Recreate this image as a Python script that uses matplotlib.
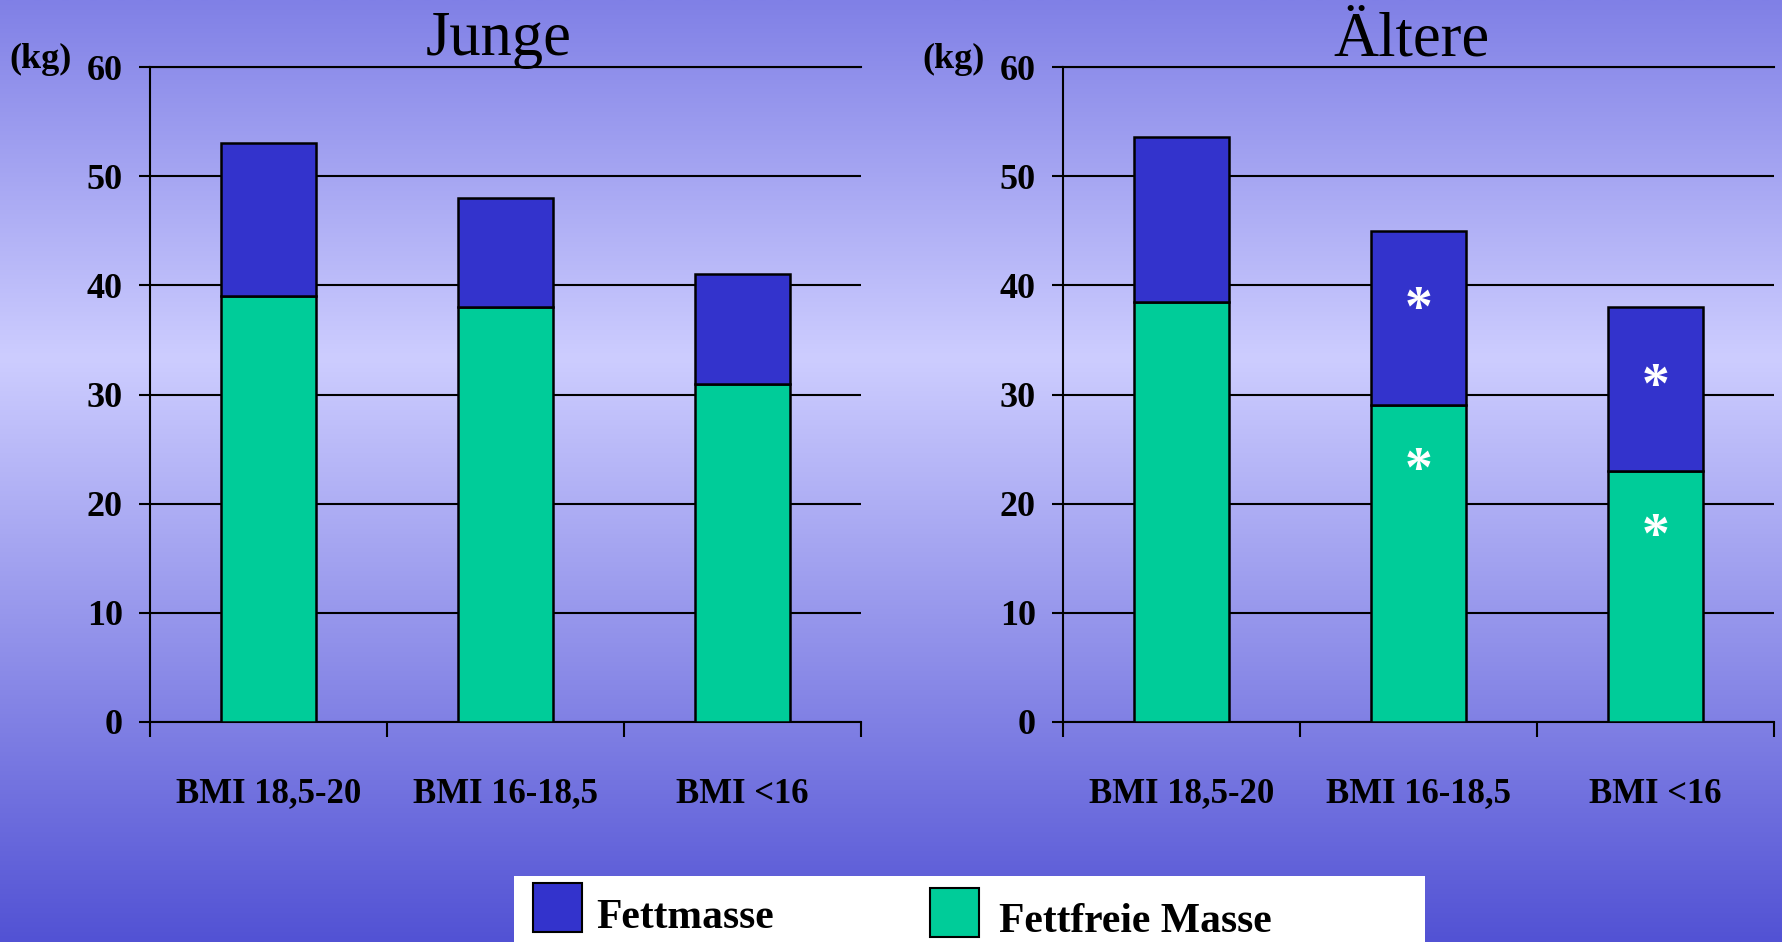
import numpy as np
import matplotlib
matplotlib.use("Agg")
import matplotlib.pyplot as plt
from matplotlib.patches import Rectangle

plt.rcParams["font.family"] = ["Liberation Serif", "DejaVu Serif"]

# ---- data -------------------------------------------------------------
categories = ["BMI 18,5-20", "BMI 16-18,5", "BMI <16"]
panel_titles = ["Junge", "Ältere"]

# fat-free mass (kg) and fat mass (kg) per BMI group
junge_fettfrei = [39.0, 38.0, 31.0]
junge_fett = [14.0, 10.0, 10.0]
aeltere_fettfrei = [38.5, 29.0, 23.0]
aeltere_fett = [15.1, 16.0, 15.0]

# significance flags (drawn as asterisks inside the segments)
junge_sig_fett = [False, False, False]
junge_sig_fettfrei = [False, False, False]
aeltere_sig_fett = [False, True, True]
aeltere_sig_fettfrei = [False, True, True]

y_ticks = [0, 10, 20, 30, 40, 50, 60]
legend_labels = ["Fettmasse", "Fettfreie Masse"]
y_unit = "(kg)"

# ---- style --------------------------------------------------------------
C_FETT = "#3333CC"
C_FREI = "#00CC99"
W, H = 1783, 942

fig = plt.figure(figsize=(W / 100, H / 100), dpi=100)

# vertical background gradient
bg = fig.add_axes([0, 0, 1, 1], zorder=-10)
stops_pos = [0.0, 0.38, 1.0]
stops_col = np.array([[128, 128, 230], [205, 205, 255], [82, 82, 212]]) / 255.0
rows = np.linspace(0, 1, 600)
grad = np.stack([np.interp(rows, stops_pos, stops_col[:, k]) for k in range(3)], axis=1)
bg.imshow(grad[:, None, :], extent=[0, 1, 0, 1], aspect="auto", interpolation="bilinear")
bg.set_axis_off()

panels = [
    (panel_titles[0], junge_fettfrei, junge_fett, junge_sig_fettfrei, junge_sig_fett),
    (panel_titles[1], aeltere_fettfrei, aeltere_fett, aeltere_sig_fettfrei, aeltere_sig_fett),
]
positions = [[150 / W, 1 - 722 / H, 711 / W, 655 / H],
             [1063 / W, 1 - 722 / H, 711 / W, 655 / H]]

for pos, (title, frei, fett, sig_frei, sig_fett) in zip(positions, panels):
    ax = fig.add_axes(pos)
    ax.patch.set_alpha(0)
    x = np.arange(len(categories))
    ax.bar(x, frei, width=0.4, color=C_FREI, edgecolor="black", linewidth=1.8, zorder=3)
    ax.bar(x, fett, bottom=frei, width=0.4, color=C_FETT, edgecolor="black",
           linewidth=1.8, zorder=3)

    # asterisks marking significant differences
    for i in range(len(categories)):
        if sig_fett[i]:
            ax.annotate("*", xy=(x[i], frei[i] + fett[i]), xytext=(0, -58),
                        textcoords="offset points", ha="center", va="center",
                        color="white", fontsize=40, fontweight="bold", zorder=5)
        if sig_frei[i]:
            ax.annotate("*", xy=(x[i], frei[i]), xytext=(0, -48),
                        textcoords="offset points", ha="center", va="center",
                        color="white", fontsize=40, fontweight="bold", zorder=5)

    ax.set_xlim(-0.5, len(categories) - 0.5)
    ax.set_ylim(0, 60)
    ax.set_yticks(y_ticks)
    ax.set_yticklabels([str(v) for v in y_ticks])
    ax.grid(axis="y", color="black", linewidth=1.5)
    ax.set_axisbelow(True)

    ax.set_xticks(np.arange(len(categories) + 1) - 0.5)
    ax.set_xticklabels([])
    ax.set_xticks(x, minor=True)
    ax.set_xticklabels(categories, minor=True)
    ax.tick_params(axis="x", which="major", direction="out", length=10.8, width=1.5)
    ax.tick_params(axis="x", which="minor", length=0, pad=40, labelsize=25)
    ax.tick_params(axis="y", direction="out", length=8, width=1.5, pad=11.5, labelsize=26)
    for lab in ax.get_xticklabels(minor=True) + ax.get_yticklabels():
        lab.set_fontweight("bold")

    for s in ["left", "bottom", "top"]:
        ax.spines[s].set_linewidth(1.5)
        ax.spines[s].set_color("black")
    ax.spines["right"].set_visible(False)

    ax.annotate(title, xy=(0.5, 1.018), xycoords="axes fraction", xytext=(-5, 0),
                textcoords="offset points", ha="center", va="baseline", fontsize=45)
    ax.annotate(y_unit, xy=(0, 1), xycoords="axes fraction", xytext=(-79, -1),
                textcoords="offset points", ha="center", va="baseline",
                fontsize=26, fontweight="bold")

# legend panel at the bottom
fig.patches.append(Rectangle((514 / W, 0), 911 / W, 66 / H, transform=fig.transFigure,
                             facecolor="white", edgecolor="none", zorder=1))
fig.patches.append(Rectangle((533 / W, 1 - 932 / H), 49 / W, 49 / H, transform=fig.transFigure,
                             facecolor=C_FETT, edgecolor="black", linewidth=1.5, zorder=2))
fig.patches.append(Rectangle((930 / W, 1 - 937 / H), 49 / W, 49 / H, transform=fig.transFigure,
                             facecolor=C_FREI, edgecolor="black", linewidth=1.5, zorder=2))
fig.text(596 / W, 1 - 928 / H, legend_labels[0], ha="left", va="baseline",
         fontsize=30, fontweight="bold")
fig.text(999 / W, 1 - 932 / H, legend_labels[1], ha="left", va="baseline",
         fontsize=30, fontweight="bold")

fig.savefig("out.png", dpi=100)
